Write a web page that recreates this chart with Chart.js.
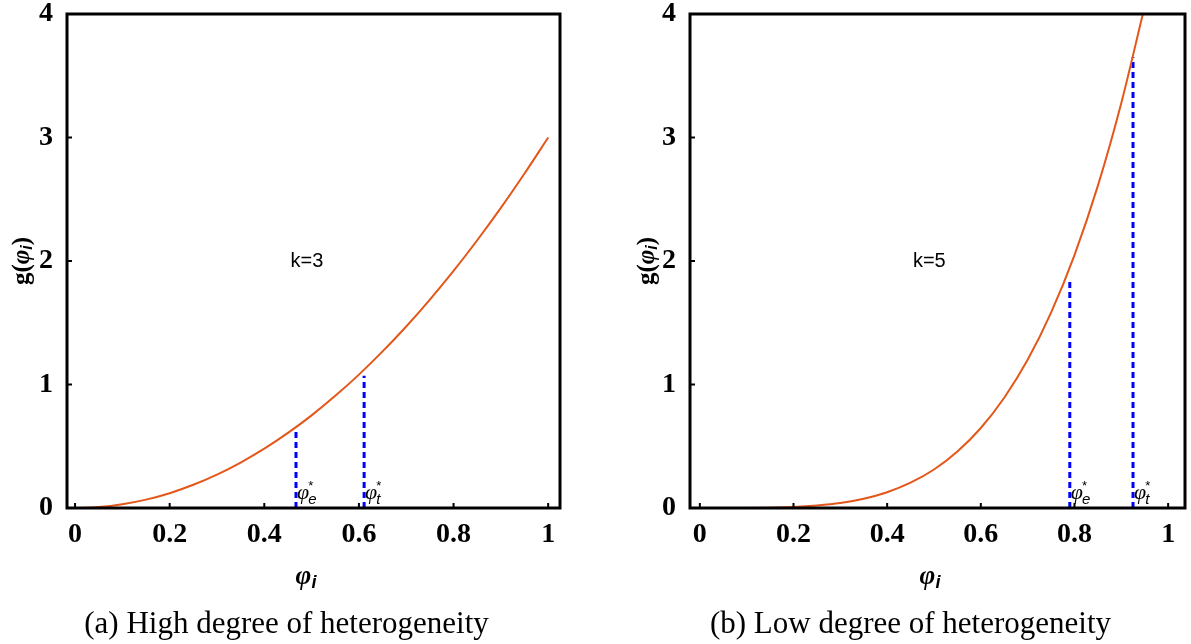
<!DOCTYPE html>
<html lang="en">
<head>
    <meta charset="UTF-8">
    <title>g(phi) for k=3 and k=5</title>
    <script src="https://cdn.jsdelivr.net/npm/chart.js@4.4.0/dist/chart.umd.min.js"></script>
    <style>
        body { margin: 0; background: #fff; }
        .panel { position: absolute; top: 0; width: 595px; height: 644px; }
        #left { left: 0; }
        #right { left: 596px; }
    </style>
</head>
<body>
    <div class="panel" id="left"><canvas id="chartA"></canvas></div>
    <div class="panel" id="right"><canvas id="chartB"></canvas></div>

    <script>
        // values
        const phiA = [0, 0.025, 0.05, 0.075, 0.1, 0.15, 0.2, 0.25, 0.3, 0.35, 0.4, 0.45, 0.5, 0.55, 0.6, 0.65, 0.7, 0.75, 0.8, 0.85, 0.9, 0.95, 1];
        const gA   = [0, 0.002, 0.008, 0.017, 0.03, 0.068, 0.12, 0.188, 0.27, 0.368, 0.48, 0.608, 0.75, 0.908, 1.08, 1.268, 1.47, 1.688, 1.92, 2.168, 2.43, 2.708, 3.0];
        const phiB = [0, 0.1, 0.15, 0.2, 0.25, 0.3, 0.35, 0.4, 0.45, 0.5, 0.55, 0.6, 0.65, 0.7, 0.75, 0.8, 0.85, 0.9, 0.946];
        const gB   = [0, 0.0005, 0.0025, 0.008, 0.02, 0.04, 0.075, 0.128, 0.205, 0.312, 0.458, 0.648, 0.893, 1.2, 1.582, 2.048, 2.61, 3.28, 4.0];
        // dashed markers: [phi, g at top]
        const markA = { e: [0.467, 0.65], t: [0.611, 1.07] };
        const markB = { e: [0.79, 1.86], t: [0.925, 3.65] };
        const xTicks = [0, 0.2, 0.4, 0.6, 0.8, 1];
        const yTicks = [0, 1, 2, 3, 4];

        const orange = '#e4571a';
        const blue = '#0000ff';

        function pts(xs, ys) {
            return xs.map((x, i) => ({ x: x, y: ys[i] }));
        }
        function vline(m) {
            return [{ x: m[0], y: 0 }, { x: m[0], y: m[1] }];
        }

        // frame, inward ticks, axis titles, caption and labels
        const decor = {
            id: 'decor',
            afterDraw(chart) {
                const o = chart.options.plugins.decor;
                const ctx = chart.ctx;
                const a = chart.chartArea;
                const xs = chart.scales.x, ys = chart.scales.y;
                ctx.save();
                ctx.strokeStyle = '#000';
                ctx.lineWidth = 3;
                ctx.strokeRect(a.left, a.top, a.right - a.left, a.bottom - a.top);
                ctx.lineWidth = 2;
                xTicks.forEach(v => {
                    const px = xs.getPixelForValue(v);
                    ctx.beginPath(); ctx.moveTo(px, a.bottom); ctx.lineTo(px, a.bottom - 5); ctx.stroke();
                });
                yTicks.forEach(v => {
                    const py = ys.getPixelForValue(v);
                    ctx.beginPath(); ctx.moveTo(a.left, py); ctx.lineTo(a.left + 5, py); ctx.stroke();
                });

                ctx.fillStyle = '#000';
                // annotation k=...
                ctx.font = '20px "Liberation Sans", Arial, sans-serif';
                ctx.textAlign = 'center';
                ctx.textBaseline = 'middle';
                ctx.fillText(o.k, xs.getPixelForValue(o.kPos[0]), ys.getPixelForValue(o.kPos[1]));

                // phi* labels at the dashed lines
                [['e', o.marks.e], ['t', o.marks.t]].forEach(([s, m]) => {
                    const px = xs.getPixelForValue(m[0]) + 1;
                    const py = a.bottom - 9;
                    ctx.textAlign = 'left';
                    ctx.textBaseline = 'alphabetic';
                    ctx.font = 'italic 22px "Liberation Serif", serif';
                    ctx.fillText('φ', px, py);
                    const w = ctx.measureText('φ').width;
                    ctx.font = 'italic 15px "Liberation Sans", sans-serif';
                    ctx.fillText(s, px + w - 1, py + 5);
                    ctx.font = '13px "Liberation Sans", sans-serif';
                    ctx.fillText('*', px + w - 1, py - 9);
                });

                // y axis title g(phi_i), rotated
                ctx.save();
                ctx.translate(o.yTitleX, (a.top + a.bottom) / 2);
                ctx.rotate(-Math.PI / 2);
                ctx.textBaseline = 'middle';
                ctx.textAlign = 'left';
                const parts = [['bold 25px "Liberation Serif", serif', 'g('], ['bold italic 25px "Liberation Serif", serif', 'φ'],
                               ['bold italic 16px "Liberation Sans", sans-serif', 'i'], ['bold 25px "Liberation Serif", serif', ')']];
                let tw = 0;
                parts.forEach(p => { ctx.font = p[0]; tw += ctx.measureText(p[1]).width; });
                let cx = -tw / 2;
                parts.forEach((p, i) => {
                    ctx.font = p[0];
                    ctx.fillText(p[1], cx, i === 2 ? 5 : 0);
                    cx += ctx.measureText(p[1]).width;
                });
                ctx.restore();

                // x axis title phi_i
                const midX = (a.left + a.right) / 2;
                ctx.textAlign = 'left';
                ctx.textBaseline = 'alphabetic';
                ctx.font = 'bold italic 27px "Liberation Serif", serif';
                const pw = ctx.measureText('φ').width;
                ctx.fillText('φ', midX - 10 - pw / 2, 584);
                ctx.font = 'bold italic 18px "Liberation Sans", sans-serif';
                ctx.fillText('i', midX - 10 + pw / 2, 588);

                // caption
                ctx.textAlign = 'center';
                ctx.font = '31px "Liberation Serif", serif';
                ctx.fillText(o.caption, midX - 27, 633);
                ctx.restore();
            }
        };

        function makeChart(id, xs, ys, marks, opts) {
            return new Chart(document.getElementById(id), {
                type: 'scatter',
                data: {
                    datasets: [
                        { data: pts(xs, ys), showLine: true, borderColor: orange, borderWidth: 2, pointRadius: 0, cubicInterpolationMode: 'monotone' },
                        { data: vline(marks.e), showLine: true, borderColor: blue, borderWidth: 3, borderDash: [6, 4], pointRadius: 0 },
                        { data: vline(marks.t), showLine: true, borderColor: blue, borderWidth: 3, borderDash: [6, 4], pointRadius: 0 }
                    ]
                },
                options: {
                    responsive: true,
                    maintainAspectRatio: false,
                    animation: false,
                    layout: { padding: { top: 14, right: opts.padRight, left: 0, bottom: 0 } },
                    plugins: {
                        legend: { display: false },
                        tooltip: { enabled: false },
                        decor: { k: opts.k, kPos: opts.kPos, marks: marks, caption: opts.caption, yTitleX: opts.yTitleX }
                    },
                    scales: {
                        x: {
                            type: 'linear',
                            min: opts.xMin, max: opts.xMax,
                            afterBuildTicks: s => { s.ticks = xTicks.map(v => ({ value: v })); },
                            afterFit: s => { s.height = 136; s.paddingLeft = 0; s.paddingRight = 0; },
                            grid: { display: false },
                            border: { display: false },
                            ticks: {
                                color: '#000', padding: 2,
                                font: { family: '"Liberation Serif", serif', size: 28, weight: 'bold' },
                                callback: v => String(v)
                            }
                        },
                        y: {
                            min: 0, max: 4,
                            afterBuildTicks: s => { s.ticks = yTicks.map(v => ({ value: v })); },
                            afterFit: s => { s.width = opts.yWidth; s.paddingTop = 0; s.paddingBottom = 0; },
                            grid: { display: false },
                            border: { display: false },
                            ticks: {
                                color: '#000', padding: 6,
                                font: { family: '"Liberation Serif", serif', size: 28, weight: 'bold' }
                            }
                        }
                    }
                },
                plugins: [decor]
            });
        }

        makeChart('chartA', phiA, gA, markA, {
            xMin: -0.017, xMax: 1.025, yWidth: 67, padRight: 35, yTitleX: 23,
            k: 'k=3', kPos: [0.49, 2], caption: '(a) High degree of heterogeneity'
        });
        makeChart('chartB', phiB, gB, markB, {
            xMin: -0.021, xMax: 1.036, yWidth: 94, padRight: 6, yTitleX: 52,
            k: 'k=5', kPos: [0.49, 2], caption: '(b) Low degree of heterogeneity'
        });
    </script>
</body>
</html>
